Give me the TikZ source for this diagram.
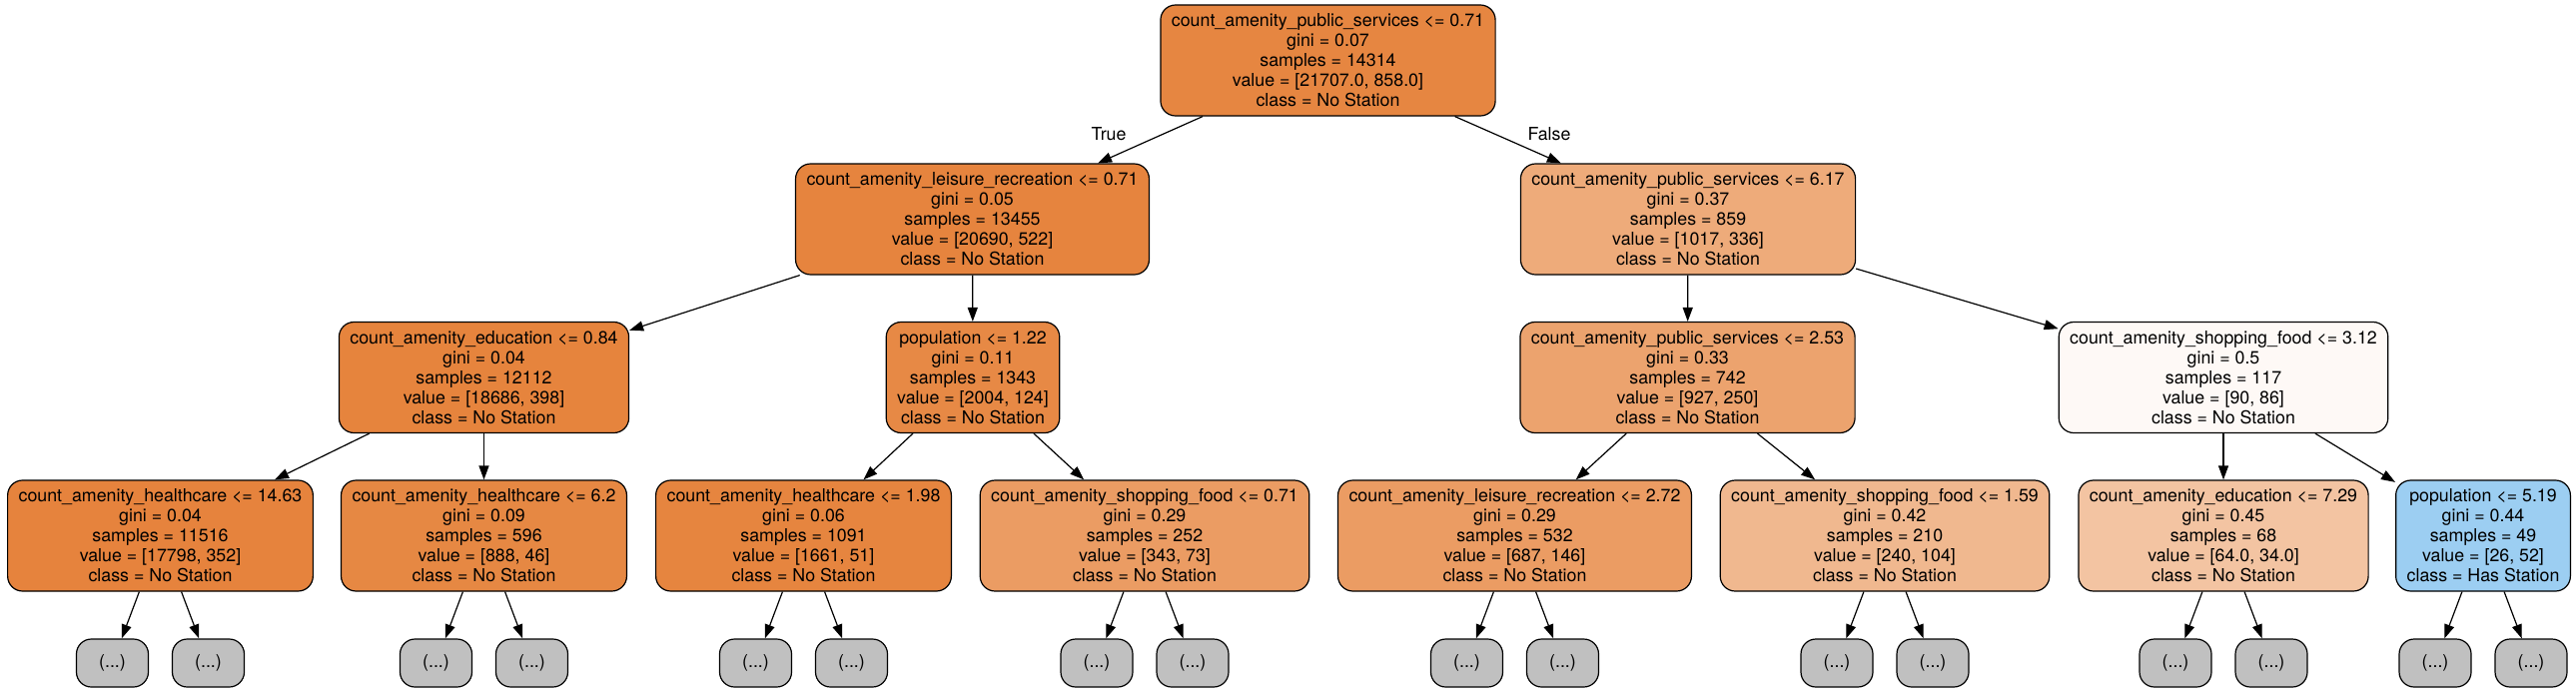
\documentclass[tikz,border=0pt]{standalone}
\usepackage{fontspec}
\setmainfont{TeX Gyre Heros}
\usetikzlibrary{arrows.meta}

\definecolor{cA1}{RGB}{230,134,65}
\definecolor{cB1}{RGB}{230,132,62}
\definecolor{cB2}{RGB}{238,171,122}
\definecolor{cC1}{RGB}{230,132,61}
\definecolor{cC2}{RGB}{231,137,69}
\definecolor{cC3}{RGB}{236,163,110}
\definecolor{cC4}{RGB}{254,249,246}
\definecolor{cD1}{RGB}{230,131,61}
\definecolor{cD2}{RGB}{230,136,67}
\definecolor{cD3}{RGB}{230,133,63}
\definecolor{cD4}{RGB}{235,156,99}
\definecolor{cD5}{RGB}{235,156,99}
\definecolor{cD6}{RGB}{240,184,143}
\definecolor{cD7}{RGB}{243,196,162}
\definecolor{cD8}{RGB}{156,206,242}
\definecolor{leafgrey}{RGB}{192,192,192}

\tikzset{
  split/.style={draw=black, line width=1.2pt, rounded corners=15pt, align=center,
    inner xsep=11pt, minimum height=111pt, font=\fontsize{17.8}{20}\selectfont},
  leafbox/.style={draw=black, line width=1.2pt, fill=leafgrey, rounded corners=15pt,
    minimum width=72pt, minimum height=48pt, font=\fontsize{17.8}{20}\selectfont},
  edgelabel/.style={font=\fontsize{17.8}{20}\selectfont}
}

\begin{document}
\begin{tikzpicture}[x=1pt, y=-1pt, line width=1.2pt, >={Triangle[length=14pt,width=10pt]}]
    \useasboundingbox (0,0) rectangle (2579,693);

    % root and first split
    \node[split, fill=cA1] (A1) at (1329.5,60.5) {count\_amenity\_public\_services <= 0.71\\gini = 0.07\\samples = 14314\\value = [21707.0, 858.0]\\class = No Station};
    \node[split, fill=cB1] (B1) at (973.5,219.5) {count\_amenity\_leisure\_recreation <= 0.71\\gini = 0.05\\samples = 13455\\value = [20690, 522]\\class = No Station};
    \node[split, fill=cB2] (B2) at (1690,219.5) {count\_amenity\_public\_services <= 6.17\\gini = 0.37\\samples = 859\\value = [1017, 336]\\class = No Station};

    % second level
    \node[split, fill=cC1] (C1) at (484.5,378) {count\_amenity\_education <= 0.84\\gini = 0.04\\samples = 12112\\value = [18686, 398]\\class = No Station};
    \node[split, fill=cC2] (C2) at (974,378) {population <= 1.22\\gini = 0.11\\samples = 1343\\value = [2004, 124]\\class = No Station};
    \node[split, fill=cC3] (C3) at (1689.5,378) {count\_amenity\_public\_services <= 2.53\\gini = 0.33\\samples = 742\\value = [927, 250]\\class = No Station};
    \node[split, fill=cC4] (C4) at (2226,378) {count\_amenity\_shopping\_food <= 3.12\\gini = 0.5\\samples = 117\\value = [90, 86]\\class = No Station};

    % third level
    \node[split, fill=cD1] (D1) at (160.5,536.5) {count\_amenity\_healthcare <= 14.63\\gini = 0.04\\samples = 11516\\value = [17798, 352]\\class = No Station};
    \node[split, fill=cD2] (D2) at (484.5,536.5) {count\_amenity\_healthcare <= 6.2\\gini = 0.09\\samples = 596\\value = [888, 46]\\class = No Station};
    \node[split, fill=cD3] (D3) at (804.5,536.5) {count\_amenity\_healthcare <= 1.98\\gini = 0.06\\samples = 1091\\value = [1661, 51]\\class = No Station};
    \node[split, fill=cD4] (D4) at (1146,536.5) {count\_amenity\_shopping\_food <= 0.71\\gini = 0.29\\samples = 252\\value = [343, 73]\\class = No Station};
    \node[split, fill=cD5] (D5) at (1516.5,536.5) {count\_amenity\_leisure\_recreation <= 2.72\\gini = 0.29\\samples = 532\\value = [687, 146]\\class = No Station};
    \node[split, fill=cD6] (D6) at (1887,536.5) {count\_amenity\_shopping\_food <= 1.59\\gini = 0.42\\samples = 210\\value = [240, 104]\\class = No Station};
    \node[split, fill=cD7] (D7) at (2226,536.5) {count\_amenity\_education <= 7.29\\gini = 0.45\\samples = 68\\value = [64.0, 34.0]\\class = No Station};
    \node[split, fill=cD8] (D8) at (2486,536.5) {population <= 5.19\\gini = 0.44\\samples = 49\\value = [26, 52]\\class = Has Station};

    % truncated leaves
    \foreach \i/\x in {1/160.5,2/484.5,3/804.5,4/1146,5/1516.5,6/1887,7/2226,8/2486} {
        \node[leafbox] (E\i a) at (\x-48,664) {(...)};
        \node[leafbox] (E\i b) at (\x+48,664) {(...)};
        \draw[->] (D\i) -- (E\i a);
        \draw[->] (D\i) -- (E\i b);
    }

    \draw[->] (A1) -- (B1);
    \draw[->] (A1) -- (B2);
    \draw[->] (B1) -- (C1);
    \draw[->] (B1) -- (C2);
    \draw[->] (B2) -- (C3);
    \draw[->] (B2) -- (C4);
    \draw[->] (C1) -- (D1);
    \draw[->] (C1) -- (D2);
    \draw[->] (C2) -- (D3);
    \draw[->] (C2) -- (D4);
    \draw[->] (C3) -- (D5);
    \draw[->] (C3) -- (D6);
    \draw[->] (C4) -- (D7);
    \draw[->] (C4) -- (D8);

    \node[edgelabel] (T1) at (1110,134) {True};
    \node[edgelabel] (F1) at (1551,134) {False};
\end{tikzpicture}
\end{document}
